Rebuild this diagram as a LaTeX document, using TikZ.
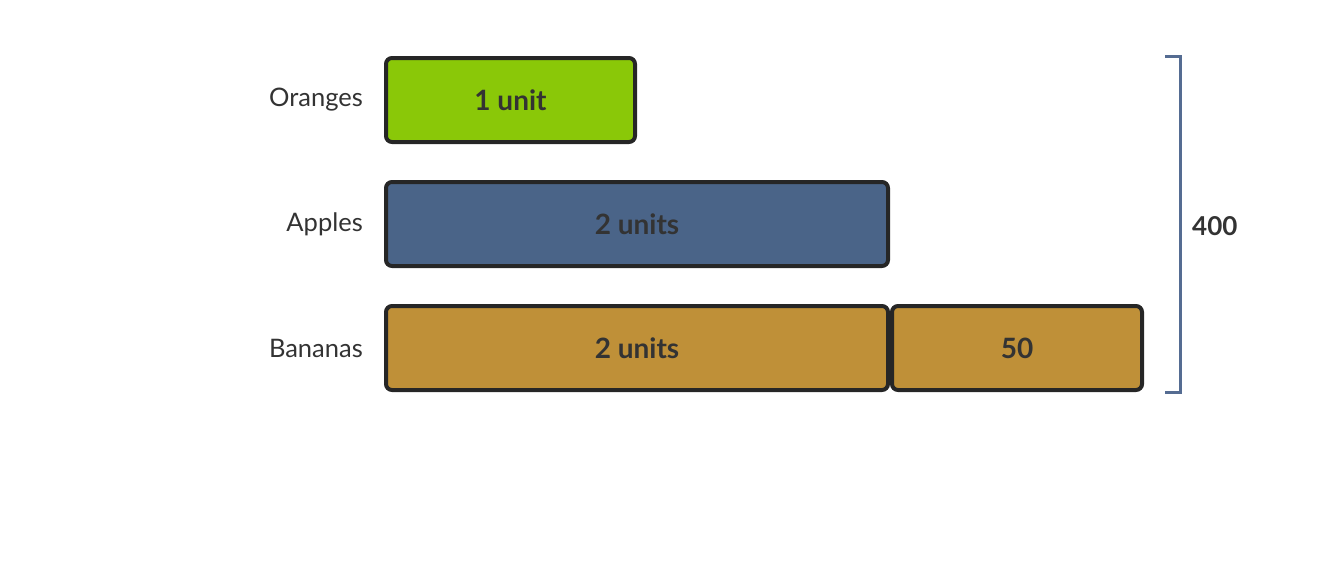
\documentclass[tikz,border=0pt]{standalone}
\usepackage{fontspec}
\setmainfont{Lato}
\usetikzlibrary{positioning}

\definecolor{orangegreen}{HTML}{8AC808}
\definecolor{appleblue}{HTML}{4A6488}
\definecolor{bananagold}{HTML}{BF9038}
\definecolor{boxline}{HTML}{262626}
\definecolor{labeltext}{HTML}{333333}
\definecolor{bracketblue}{HTML}{556C92}

\tikzset{
  unitbox/.style={draw=boxline, line width=4pt, rounded corners=6pt, minimum height=84pt,
    inner sep=0pt, text=labeltext, font=\fontsize{28}{32}\selectfont\bfseries},
  rowlabel/.style={anchor=east, inner sep=0pt, text=labeltext, font=\fontsize{25.5}{30}\selectfont},
}

\begin{document}
\begin{tikzpicture}[x=1pt,y=-1pt]
	\useasboundingbox (0,0) rectangle (1328,568);
	% bars
	\node[unitbox, fill=orangegreen, minimum width=249pt] (oranges) at (510.5,100) {1 unit};
	\node[unitbox, fill=appleblue, minimum width=502pt] (apples) at (637,224) {2 units};
	\node[unitbox, fill=bananagold, minimum width=502pt] (bananas) at (637,348) {2 units};
	\node[unitbox, fill=bananagold, minimum width=250pt] (extra) at (1017,348) {50};
	% row labels
	\node[rowlabel] (lbloranges) at (363,100) {Oranges};
	\node[rowlabel] (lblapples) at (363,224) {Apples};
	\node[rowlabel] (lblbananas) at (363,348) {Bananas};
	% total bracket
	\coordinate (brtop) at (1165,56);
	\coordinate (brbot) at (1165,392);
	\draw[bracketblue, line width=3pt] (brtop) -- ++(15,0) -- ++(0,336) -- (brbot);
	\node[anchor=west, inner sep=0pt, text=labeltext, font=\fontsize{26}{30}\selectfont\bfseries] (total) at (1192,226) {400};
\end{tikzpicture}
\end{document}
